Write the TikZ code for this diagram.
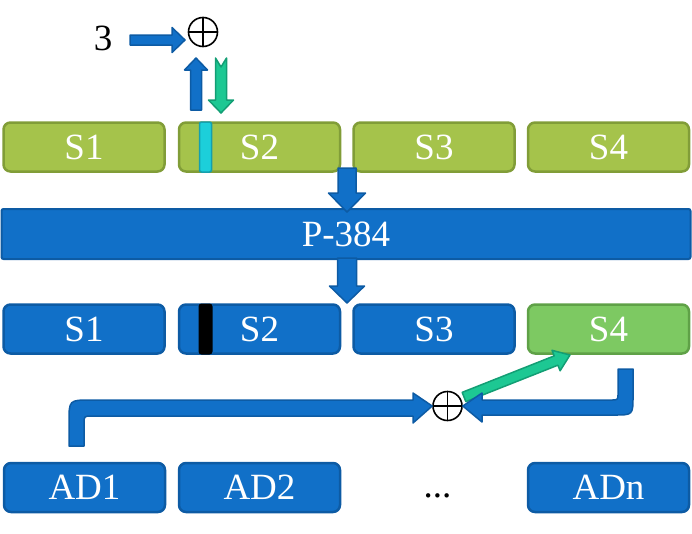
\documentclass[tikz,border=0pt]{standalone}
\usepackage{fontspec}
\setmainfont{Liberation Serif}
\usetikzlibrary{calc}
\definecolor{blueF}{HTML}{1170C8}
\definecolor{blueD}{HTML}{0D5BA4}
\definecolor{greenF}{HTML}{A5C34B}
\definecolor{greenD}{HTML}{819D38}
\definecolor{lgreenF}{HTML}{7DC962}
\definecolor{lgreenD}{HTML}{5FA147}
\definecolor{tealF}{HTML}{1DC893}
\definecolor{tealD}{HTML}{139E74}
\definecolor{cyanF}{HTML}{1CCFDA}
\definecolor{cyanD}{HTML}{159FAE}
\newcommand{\blockarrow}[6]{%
  \coordinate (bh) at ($(#2)!#5!(#1)$);
  \draw[#6] ($(#1)!#3!90:(#2)$) -- ($(bh)!#3!90:(#2)$) -- ($(bh)!#4!90:(#2)$) -- (#2)
    -- ($(bh)!#4!-90:(#2)$) -- ($(bh)!#3!-90:(#2)$) -- ($(#1)!#3!-90:(#2)$) -- cycle;}
\newcommand{\notcharrow}[7]{%
  \coordinate (bh) at ($(#2)!#5!(#1)$);
  \draw[#6] ($(#1)!#3!90:(#2)$) -- ($(bh)!#3!90:(#2)$) -- ($(bh)!#4!90:(#2)$) -- (#2)
    -- ($(bh)!#4!-90:(#2)$) -- ($(bh)!#3!-90:(#2)$) -- ($(#1)!#3!-90:(#2)$) -- ($(#1)!#7!(#2)$) -- cycle;}
\begin{document}
\begin{tikzpicture}[x=1pt,y=-1pt,
  box/.style={rectangle, rounded corners=7pt, minimum width=161pt, minimum height=49pt,
    line width=2.5pt, text=white, inner sep=0pt, font=\fontsize{37}{38}\selectfont},
  bluebox/.style={box, fill=blueF, draw=blueD},
  greenbox/.style={box, fill=greenF, draw=greenD},
  lgreenbox/.style={box, fill=lgreenF, draw=lgreenD},
  bluearr/.style={fill=blueF, draw=blueD, line width=1.5pt, line join=round},
  tealarr/.style={fill=tealF, draw=tealD, line width=1.5pt, line join=round},
  xorop/.style={circle, draw=black, line width=1.6pt, minimum size=29pt, inner sep=0pt},
  xorline/.style={draw=black, line width=1.6pt},
  plain/.style={font=\fontsize{37}{38}\selectfont, inner sep=0pt}]
\useasboundingbox (0,0) rectangle (692,533);
% row 1
\node[greenbox] (a1) at (84,147) {S1};
\node[greenbox] (a2) at (259.5,147) {S2};
\node[greenbox] (a3) at (434,147) {S3};
\node[greenbox] (a4) at (608.5,147) {S4};
\node[rectangle, rounded corners=2pt, fill=cyanF, draw=cyanD, line width=1.5pt, minimum width=12pt, minimum height=50pt, inner sep=0pt] (bar1) at (205.5,147) {};
% P-384
\node[rectangle, rounded corners=2pt, fill=blueF, draw=blueD, line width=2pt, minimum width=689pt, minimum height=50pt, text=white, inner sep=0pt, font=\fontsize{37}{38}\selectfont] (p) at (346,234) {P-384};
% row 2
\node[bluebox] (b1) at (84,329) {S1};
\node[bluebox] (b2) at (259.5,329) {S2};
\node[bluebox] (b3) at (434,329) {S3};
\node[lgreenbox] (b4) at (608.5,329) {S4};
\node[rectangle, rounded corners=3pt, fill=black, minimum width=14pt, minimum height=51pt, inner sep=0pt] (bar2) at (205.5,329) {};
% AD row
\node[bluebox] (d1) at (84.5,487.5) {AD1};
\node[bluebox] (d2) at (259.5,487.5) {AD2};
\node[bluebox] (dn) at (608.5,487.5) {ADn};
\node[plain, anchor=base] (dots) at (437.5,497) {...};
% top xor
\node[plain] (three) at (103,38) {3};
\node[xorop] (x1) at (203,32) {};
\draw[xorline] (x1.north) -- (x1.south) (x1.west) -- (x1.east);
% bottom xor
\node[xorop] (x2) at (447.5,406) {};
\draw[xorline] (x2.north) -- (x2.south) (x2.west) -- (x2.east);
% top arrows
\coordinate (t3s) at (130,40); \coordinate (t3e) at (185,40);
\blockarrow{t3s}{t3e}{5pt}{12.5pt}{13pt}{bluearr}
\coordinate (ups) at (196,110); \coordinate (upe) at (196,58);
\blockarrow{ups}{upe}{5.5pt}{11.5pt}{12pt}{bluearr}
\coordinate (dns) at (221,58); \coordinate (dne) at (221,113);
\notcharrow{dns}{dne}{5.5pt}{12.5pt}{13pt}{tealarr}{9pt}
% vertical arrows into/out of P-384
\coordinate (v1s) at (347,168); \coordinate (v1e) at (347,212);
\blockarrow{v1s}{v1e}{9pt}{18.5pt}{19pt}{bluearr}
\coordinate (v2s) at (347,258); \coordinate (v2e) at (347,303);
\blockarrow{v2s}{v2e}{9.5pt}{17.5pt}{17pt}{bluearr}
% diagonal teal arrow
\coordinate (gs) at (464,397); \coordinate (ge) at (570,355);
\blockarrow{gs}{ge}{5pt}{11pt}{15pt}{tealarr}
% bent arrows
\draw[bluearr] (69,446) -- (69,422) .. controls (69,400) .. (91,400) -- (413,400) -- (413,393)
  -- (x2.west) -- (413,423) -- (413,416) -- (92,416) .. controls (84,416) .. (84,424) -- (84,446) -- cycle;
\draw[bluearr] (618,369) -- (633,369) -- (633,396) .. controls (633,415) .. (614,415) -- (482,415)
  -- (482,422) -- (x2.east) -- (482,393) -- (482,400) -- (611,400) .. controls (618,400) .. (618,393) -- cycle;
\end{tikzpicture}
\end{document}
